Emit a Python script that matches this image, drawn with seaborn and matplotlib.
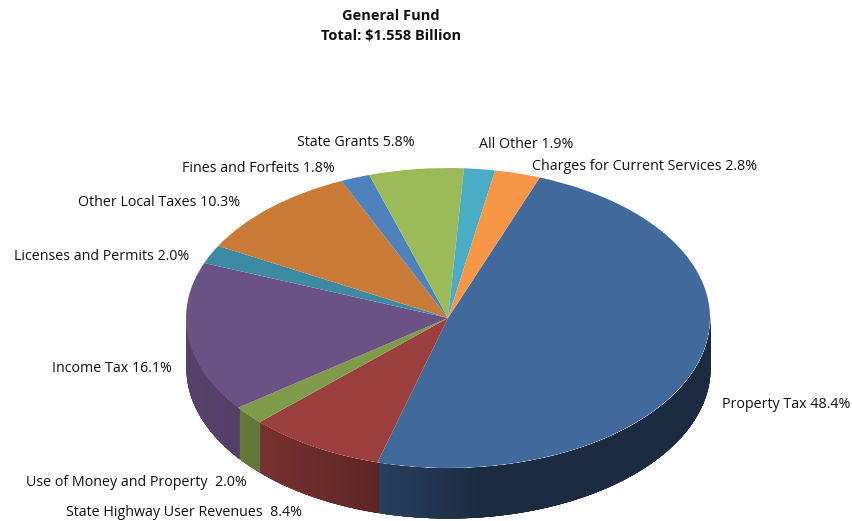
import numpy as np
import matplotlib
matplotlib.use("Agg")
import matplotlib.pyplot as plt
import seaborn as sns

# data, clockwise from the top right
categories = ["Property Tax", "State Highway User Revenues ", "Use of Money and Property ",
              "Income Tax", "Licenses and Permits", "Other Local Taxes",
              "Fines and Forfeits", "State Grants", "All Other",
              "Charges for Current Services"]
shares = [48.4, 8.4, 2.0, 16.1, 2.0, 10.3, 1.8, 5.8, 1.9, 2.8]
slice_colors = ["#41699B", "#9B403E", "#7F9B4A", "#6B5284", "#3C8BA3",
                "#C97A37", "#4F81BD", "#9BBB59", "#4BACC6", "#F79646"]
title_lines = ["General Fund", "Total: $1.558 Billion"]

# label anchors in pixels (left edge, middle)
label_px = [(722, 404), (66, 512), (26, 482), (52, 368), (14, 256),
            (78, 202), (182, 168), (297, 142), (479, 144), (532, 166)]

W, H = 852, 521
CX, CY, RX, RY = 448, 318, 262, 150
DEPTH = 50 / RY
START = 69.5


def shade(x):
    return np.interp(x, [-1, -0.72, -0.27, 0.15, 1], [0.8, 0.77, 0.6, 0.41, 0.41])


sns.set_theme(style="white")
plt.rcParams["font.family"] = ["Open Sans", "DejaVu Sans"]
palette = sns.color_palette(slice_colors)

fig = plt.figure(figsize=(W / 100, H / 100), dpi=100)
ax = fig.add_axes([0, 0, 1, 1])

# side wall: solid base, then overlapping strips so the shading runs left to right
edges = START - np.cumsum([0] + shares) / sum(shares) * 360
for i, col in enumerate(palette):
    a = np.radians(np.arange(edges[i + 1], edges[i] + 0.25, 0.25))
    a = a[np.sin(a) <= 0.02]
    if len(a) < 2:
        continue
    base = np.array(col) * shade(np.cos(a).mean())
    ax.fill_between(np.cos(a), np.sin(a), np.sin(a) - DEPTH, color=base, lw=0, zorder=1)
    # paint from the left so each strip covers the seam of the one before
    order = np.argsort(np.cos(a))
    a = a[order]
    for j in range(len(a) - 1):
        seg = a[j:j + 6]
        xs = np.cos(seg)
        ax.fill_between(xs, np.sin(seg), np.sin(seg) - DEPTH,
                        color=np.array(col) * shade(xs[0]), lw=0, zorder=1)

# top face
ax.pie(shares, colors=palette, startangle=START, counterclock=False, radius=1,
       frame=True, wedgeprops={"linewidth": 0, "zorder": 2})
ax.set_aspect("auto")
ax.set_xlim(-CX / RX, (W - CX) / RX)
ax.set_ylim((CY - H) / RY, CY / RY)
ax.axis("off")

for name, val, (px, py) in zip(categories, shares, label_px):
    fig.text(px / W, 1 - py / H, f"{name} {val}%", ha="left", va="center",
             fontsize=10.3, color="#111111")

for line, py in zip(title_lines, [16, 36]):
    fig.text(391 / W, 1 - py / H, line, ha="center", va="center",
             fontsize=10.5, fontweight="bold", color="#111111")

fig.savefig("out.png", dpi=100)
